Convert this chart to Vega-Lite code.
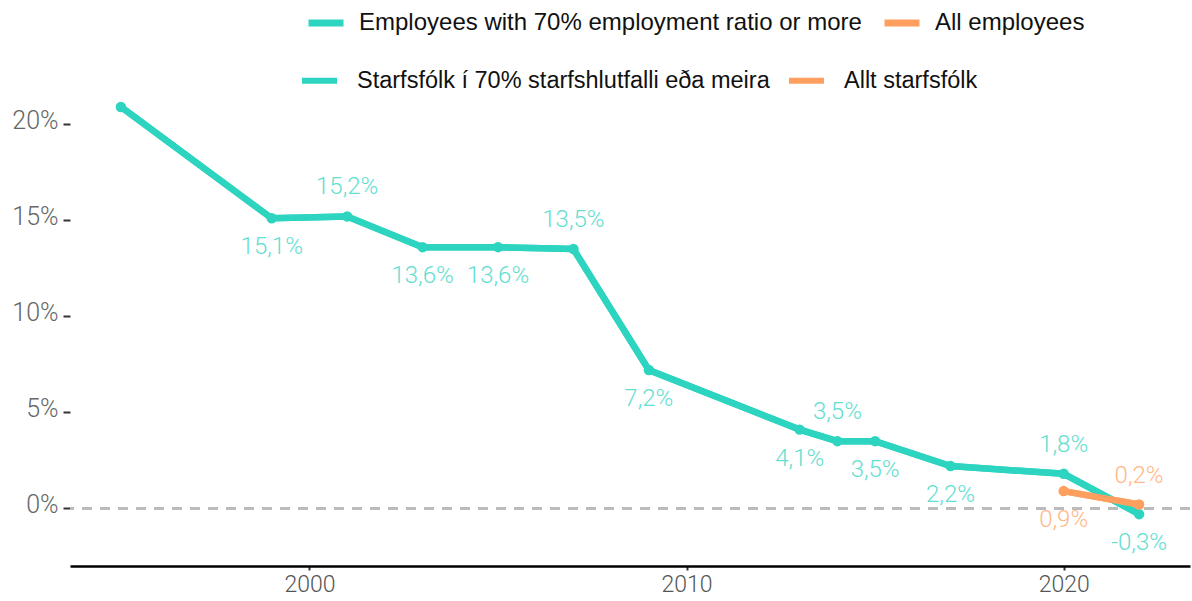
{
  "$schema": "https://vega.github.io/schema/vega-lite/v6.json",
  "width": 1120,
  "height": 461,
  "autosize": {"type": "none"},
  "padding": {"left": 70, "top": 105, "right": 2, "bottom": 35},
  "background": "white",
  "config": {"view": {"stroke": null}},
  "data": {
    "values": [
      {"year": 1995, "value": 20.9, "is": "Starfsfólk í 70% starfshlutfalli eða meira", "en": "Employees with 70% employment ratio or more"},
      {"year": 1999, "value": 15.1, "is": "Starfsfólk í 70% starfshlutfalli eða meira", "en": "Employees with 70% employment ratio or more"},
      {"year": 2001, "value": 15.2, "is": "Starfsfólk í 70% starfshlutfalli eða meira", "en": "Employees with 70% employment ratio or more"},
      {"year": 2003, "value": 13.6, "is": "Starfsfólk í 70% starfshlutfalli eða meira", "en": "Employees with 70% employment ratio or more"},
      {"year": 2005, "value": 13.6, "is": "Starfsfólk í 70% starfshlutfalli eða meira", "en": "Employees with 70% employment ratio or more"},
      {"year": 2007, "value": 13.5, "is": "Starfsfólk í 70% starfshlutfalli eða meira", "en": "Employees with 70% employment ratio or more"},
      {"year": 2009, "value": 7.2, "is": "Starfsfólk í 70% starfshlutfalli eða meira", "en": "Employees with 70% employment ratio or more"},
      {"year": 2013, "value": 4.1, "is": "Starfsfólk í 70% starfshlutfalli eða meira", "en": "Employees with 70% employment ratio or more"},
      {"year": 2014, "value": 3.5, "is": "Starfsfólk í 70% starfshlutfalli eða meira", "en": "Employees with 70% employment ratio or more"},
      {"year": 2015, "value": 3.5, "is": "Starfsfólk í 70% starfshlutfalli eða meira", "en": "Employees with 70% employment ratio or more"},
      {"year": 2017, "value": 2.2, "is": "Starfsfólk í 70% starfshlutfalli eða meira", "en": "Employees with 70% employment ratio or more"},
      {"year": 2020, "value": 1.8, "is": "Starfsfólk í 70% starfshlutfalli eða meira", "en": "Employees with 70% employment ratio or more"},
      {"year": 2022, "value": -0.3, "is": "Starfsfólk í 70% starfshlutfalli eða meira", "en": "Employees with 70% employment ratio or more"},
      {"year": 2020, "value": 0.9, "is": "Allt starfsfólk", "en": "All employees"},
      {"year": 2022, "value": 0.2, "is": "Allt starfsfólk", "en": "All employees"}
    ]
  },
  "transform": [
    {"calculate": "replace(replace(format(datum.value, '.1f'), '.', ','), '\u2212', '-') + '%'", "as": "label"}
  ],
  "encoding": {
    "x": {
      "field": "year", "type": "quantitative",
      "scale": {"domain": [1993.65, 2023.35], "nice": false, "zero": false},
      "axis": {
        "values": [2000, 2010, 2020], "format": "d", "title": null, "grid": false,
        "domainColor": "#000000", "domainWidth": 2.5, "tickColor": "#333333", "tickSize": 4, "tickWidth": 2,
        "labelFont": "Roboto", "labelFontWeight": 300, "labelFontSize": 23, "labelColor": "#555555", "labelPadding": 3
      }
    },
    "y": {
      "field": "value", "type": "quantitative",
      "scale": {"domain": [-3, 21], "nice": false, "zero": false},
      "axis": {
        "values": [0, 5, 10, 15, 20], "labelExpr": "datum.value + '%'", "title": null, "grid": false,
        "domain": false, "tickColor": "#333333", "tickSize": 7, "tickWidth": 2, "labelPadding": 5,
        "labelFont": "Roboto", "labelFontWeight": 300, "labelFontSize": 25, "labelColor": "#666666", "labelOffset": -4
      }
    }
  },
  "layer": [
    {
      "mark": {"type": "rule", "strokeDash": [10, 8], "color": "#bbbbbb", "strokeWidth": 2},
      "encoding": {"y": {"datum": 0, "type": "quantitative"}, "x": null}
    },
    {
      "mark": {"type": "line", "strokeWidth": 6.5},
      "encoding": {
        "stroke": {
          "field": "en", "type": "nominal",
          "scale": {"domain": ["Employees with 70% employment ratio or more", "All employees"], "range": ["#2dd4bf", "#ff9f5f"]},
          "legend": {
            "title": null, "orient": "none", "direction": "horizontal", "legendX": 235, "legendY": -103,
            "symbolType": "stroke", "symbolSize": 1225, "symbolStrokeWidth": 7, "labelOffset": 12, "columnPadding": 8,
            "labelFont": "Liberation Sans", "labelFontSize": 24, "labelColor": "#111111", "labelLimit": 700, "padding": 0
          }
        }
      }
    },
    {
      "mark": {"type": "line", "strokeWidth": 6.5},
      "encoding": {
        "color": {
          "field": "is", "type": "nominal",
          "scale": {"domain": ["Starfsfólk í 70% starfshlutfalli eða meira", "Allt starfsfólk"], "range": ["#2dd4bf", "#ff9f5f"]},
          "legend": {
            "title": null, "orient": "none", "direction": "horizontal", "legendX": 229, "legendY": -45,
            "symbolType": "stroke", "symbolSize": 1225, "symbolStrokeWidth": 6, "labelOffset": 17, "columnPadding": 7,
            "labelFont": "Liberation Sans", "labelFontSize": 23.5, "labelColor": "#111111", "labelLimit": 700, "padding": 0
          }
        }
      }
    },
    {
      "mark": {"type": "point", "filled": true, "size": 110, "opacity": 1},
      "encoding": {"color": {"field": "is", "type": "nominal"}}
    },
    {
      "transform": [{"filter": "datum.year != 1995 && ((datum.is == 'Allt starfsfólk' && datum.year == 2022) || (datum.is != 'Allt starfsfólk' && indexof([2001, 2007, 2014, 2020], datum.year) >= 0))"}],
      "mark": {"type": "text", "dy": -29, "baseline": "middle", "align": "center", "font": "Roboto", "fontWeight": 300, "fontSize": 24, "opacity": 0.75},
      "encoding": {"text": {"field": "label"}, "color": {"field": "is", "type": "nominal"}}
    },
    {
      "transform": [{"filter": "datum.year != 1995 && !((datum.is == 'Allt starfsfólk' && datum.year == 2022) || (datum.is != 'Allt starfsfólk' && indexof([2001, 2007, 2014, 2020], datum.year) >= 0))"}],
      "mark": {"type": "text", "dy": 29, "baseline": "middle", "align": "center", "font": "Roboto", "fontWeight": 300, "fontSize": 24, "opacity": 0.75},
      "encoding": {"text": {"field": "label"}, "color": {"field": "is", "type": "nominal"}}
    }
  ]
}
